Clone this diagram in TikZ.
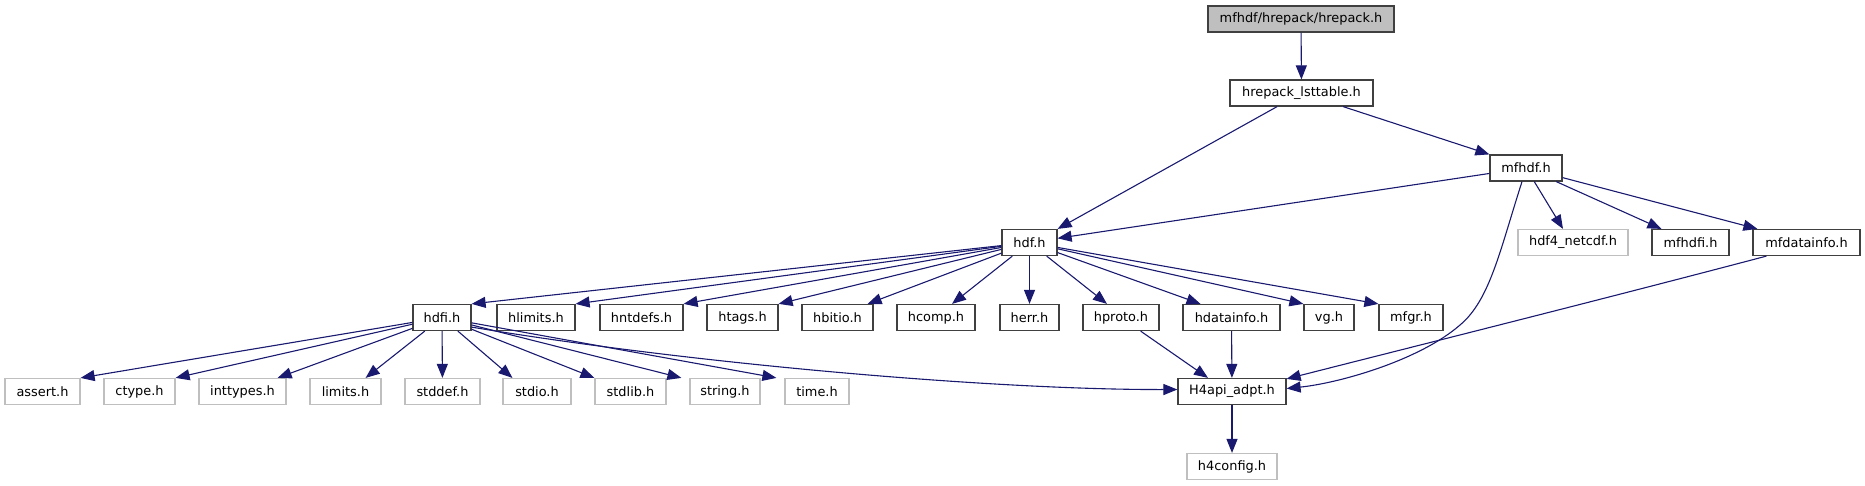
\documentclass[tikz,border=0pt]{standalone}
\usepackage{fontspec}
\newfontfamily\dejavu{DejaVu Sans}
\usetikzlibrary{arrows.meta}
\definecolor{boxborder}{HTML}{404040}
\definecolor{extgray}{HTML}{BFBFBF}
\definecolor{edgeblue}{HTML}{191970}
\tikzset{
  box/.style={draw=boxborder, line width=1.2pt, fill=white, minimum height=26pt, inner sep=0pt,
    font={\dejavu\fontsize{12.9pt}{15pt}\selectfont}},
  ext/.style={box, draw=extgray},
  rootbox/.style={box, fill=extgray},
  dep/.style={draw=edgeblue, line width=1.1pt, -{Triangle[length=14pt,width=11pt]}},
}
\begin{document}
\begin{tikzpicture}[x=1pt,y=-1pt]
\useasboundingbox (0,0) rectangle (1865,485);
% row 0/1
\node[rootbox, minimum width=186pt] (root) at (1301,19) {mfhdf/hrepack/hrepack.h};
\node[box, minimum width=143pt] (lst) at (1301.5,93) {hrepack\_lsttable.h};
\node[box, minimum width=72pt] (mfhdf) at (1526,168) {mfhdf.h};
% row 2
\node[box, minimum width=55pt] (hdf) at (1029.5,242.5) {hdf.h};
\node[ext, minimum width=110pt] (hdf4nc) at (1573,242.5) {hdf4\_netcdf.h};
\node[box, minimum width=77pt] (mfhdfi) at (1690.5,242.5) {mfhdfi.h};
\node[box, minimum width=107pt] (mfdi) at (1806.5,242.5) {mfdatainfo.h};
% row 3
\node[box, minimum width=58pt] (hdfi) at (442,317.5) {hdfi.h};
\node[box, minimum width=78pt] (hlimits) at (536,317.5) {hlimits.h};
\node[box, minimum width=83pt] (hntdefs) at (641.5,317.5) {hntdefs.h};
\node[box, minimum width=71pt] (htags) at (742.5,317.5) {htags.h};
\node[box, minimum width=71pt] (hbitio) at (837.5,317.5) {hbitio.h};
\node[box, minimum width=78pt] (hcomp) at (936,317.5) {hcomp.h};
\node[box, minimum width=59pt] (herr) at (1029.5,317.5) {herr.h};
\node[box, minimum width=76pt] (hproto) at (1121,317.5) {hproto.h};
\node[box, minimum width=97pt] (hdatainfo) at (1231.5,317.5) {hdatainfo.h};
\node[box, minimum width=50pt] (vg) at (1329,317.5) {vg.h};
\node[box, minimum width=64pt] (mfgr) at (1411,317.5) {mfgr.h};
% row 4
\node[ext, minimum width=75pt] (assert) at (42.5,391.5) {assert.h};
\node[ext, minimum width=71pt] (ctype) at (139.5,391.5) {ctype.h};
\node[ext, minimum width=87pt] (inttypes) at (242.5,391.5) {inttypes.h};
\node[ext, minimum width=71pt] (limits) at (345.5,391.5) {limits.h};
\node[ext, minimum width=75pt] (stddef) at (442.5,391.5) {stddef.h};
\node[ext, minimum width=68pt] (stdio) at (537,391.5) {stdio.h};
\node[ext, minimum width=71pt] (stdlib) at (630.5,391.5) {stdlib.h};
\node[ext, minimum width=70pt] (string) at (725,391.5) {string.h};
\node[ext, minimum width=64pt] (time) at (817,391.5) {time.h};
\node[box, minimum width=108pt] (h4api) at (1232,391.5) {H4api\_adpt.h};
% row 5
\node[ext, minimum width=90pt] (h4config) at (1232,466.5) {h4config.h};

% edges
\draw[dep] (root) -- (lst);
\draw[dep] (lst) -- (hdf.north east);
\draw[dep] (lst) -- (mfhdf.north west);
\draw[dep] (mfhdf) -- (hdf);
\draw[dep] (mfhdf) -- ([xshift=-10pt]hdf4nc.north);
\draw[dep] (mfhdf) -- ([xshift=10pt]mfhdfi.north west);
\draw[dep] (mfhdf) -- ([xshift=5pt]mfdi.north west);
\draw[dep] ([xshift=-4pt]mfhdf.south) .. controls (1500,250) and (1490,300) .. (1460,325)
  .. controls (1420,360) and (1340,383) .. ([yshift=3pt]h4api.east);
\draw[dep] ([xshift=14pt]mfdi.south west) .. controls (1600,300) and (1400,350) .. ([yshift=-1pt]h4api.north east);

\draw[dep] (hdf) -- (hdfi.north east);
\draw[dep] (hdf) -- (hlimits.north east);
\draw[dep] (hdf) -- (hntdefs.north east);
\draw[dep] (hdf) -- (htags.north east);
\draw[dep] (hdf) -- ([xshift=-6pt]hbitio.north east);
\draw[dep] (hdf) -- ([xshift=16pt]hcomp.north);
\draw[dep] (hdf) -- (herr);
\draw[dep] (hdf) -- ([xshift=-14pt]hproto.north);
\draw[dep] (hdf) -- ([xshift=-31pt]hdatainfo.north);
\draw[dep] (hdf) -- (vg.north west);
\draw[dep] (hdf) -- (mfgr.north west);

\draw[dep] (hdfi) -- (assert.north east);
\draw[dep] (hdfi) -- (ctype.north east);
\draw[dep] (hdfi) -- ([xshift=-9pt]inttypes.north east);
\draw[dep] (hdfi) -- ([xshift=-16pt]limits.north east);
\draw[dep] (hdfi) -- (stddef);
\draw[dep] (hdfi) -- ([xshift=10pt]stdio.north west);
\draw[dep] (hdfi) -- (stdlib.north west);
\draw[dep] (hdfi) -- ([xshift=-8pt]string.north west);
\draw[dep] (hdfi) -- ([xshift=-8pt]time.north west);
\draw[dep] ([yshift=4pt]hdfi.south east) .. controls (700,365) and (1000,390) .. ([yshift=2pt]h4api.west);

\draw[dep] (hproto) -- ([xshift=-24pt]h4api.north);
\draw[dep] (hdatainfo) -- (h4api);
\draw[dep] (h4api) -- (h4config);
\end{tikzpicture}
\end{document}
